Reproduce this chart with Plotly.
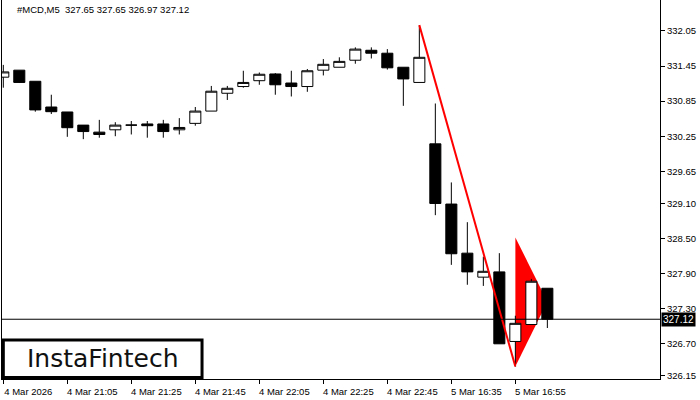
import plotly.graph_objects as go

# ---- data ----
candle_idx = list(range(35))
opens = [331.26, 331.38, 331.19, 330.75, 330.665, 330.44, 330.32, 330.36, 330.44, 330.46,
         330.46, 330.36, 330.47, 330.68, 330.985, 331.10, 331.20, 331.315, 331.16, 331.10,
         331.38, 331.43, 331.55, 331.72, 331.67, 331.43, 331.17, 330.12, 329.09, 328.25,
         327.84, 327.93, 326.74, 327.03, 327.65]
highs = [331.47, 331.38, 331.19, 330.96, 330.665, 330.44, 330.53, 330.49, 330.51, 330.51,
         330.53, 330.56, 330.75, 331.11, 331.11, 331.37, 331.34, 331.33, 331.37, 331.40,
         331.57, 331.60, 331.77, 331.77, 331.74, 331.43, 332.15, 330.81, 329.46, 328.78,
         328.19, 328.25, 327.18, 327.81, 327.65]
lows = [331.08, 331.16, 330.67, 330.63, 330.24, 330.20, 330.225, 330.25, 330.28, 330.225,
        330.225, 330.28, 330.43, 330.68, 330.87, 331.08, 331.13, 330.96, 330.93, 331.01,
        331.29, 331.43, 331.49, 331.58, 331.39, 330.77, 331.17, 328.90, 328.05, 327.71,
        327.69, 326.70, 326.31, 327.03, 326.97]
closes = [331.35, 331.17, 330.70, 330.67, 330.396, 330.33, 330.28, 330.44, 330.44, 330.43,
          330.33, 330.40, 330.68, 331.02, 331.07, 331.17, 331.31, 331.13, 331.10, 331.37,
          331.48, 331.53, 331.74, 331.67, 331.42, 331.23, 331.60, 329.10, 328.24, 327.93,
          327.94, 326.70, 327.05, 327.77, 327.12]

x_tick_idx = [0, 4, 8, 12, 16, 20, 24, 28, 32]
x_tick_labels = ["4 Mar 2026", "4 Mar 21:05", "4 Mar 21:25", "4 Mar 21:45", "4 Mar 22:05",
                 "4 Mar 22:25", "4 Mar 22:45", "5 Mar 16:35", "5 Mar 16:55"]
y_tick_vals = [332.05, 331.45, 330.85, 330.25, 329.65, 329.10, 328.50, 327.90, 327.30, 326.70, 326.15]

# pattern (pole + pennant)
pole_x = [26, 32]
pole_y = [332.15, 326.31]
pennant_x = [32, 34, 32]
pennant_y = [328.52, 327.42, 326.31]

symbol = "#MCD,M5"
last_ohlc = [327.65, 327.65, 326.97, 327.12]
last_price = closes[-1]

FONT = "Liberation Sans"

fig = go.Figure()
fig.add_trace(go.Candlestick(
    x=candle_idx, open=opens, high=highs, low=lows, close=closes,
    increasing=dict(fillcolor="white", line=dict(color="black", width=1)),
    decreasing=dict(fillcolor="black", line=dict(color="black", width=1)),
    whiskerwidth=0, showlegend=False, hoverinfo="skip",
))

# pennant (below candles)
path = "M {} {} L {} {} L {} {} Z".format(pennant_x[0], pennant_y[0], pennant_x[1], pennant_y[1],
                                          pennant_x[2], pennant_y[2])
fig.add_shape(type="path", path=path, xref="x", yref="y", fillcolor="red",
              line=dict(width=0), layer="below")
# pole line
fig.add_shape(type="line", x0=pole_x[0], y0=pole_y[0], x1=pole_x[1], y1=pole_y[1],
              xref="x", yref="y", line=dict(color="red", width=2), layer="above")
# last price line
fig.add_shape(type="line", x0=0, x1=1, xref="paper", y0=last_price, y1=last_price, yref="y",
              line=dict(color="black", width=1), layer="above")

# last price label
fig.add_annotation(x=1, xref="paper", y=last_price, yref="y", xanchor="left", yanchor="middle",
                   text="{:.2f}".format(last_price), showarrow=False,
                   font=dict(family=FONT, size=10, color="white"),
                   bgcolor="black", borderpad=1, xshift=1)

# title
fig.add_annotation(x=0.0228, xref="paper", y=0.974, yref="paper", xanchor="left", yanchor="middle",
                   text="{}  {:.2f} {:.2f} {:.2f} {:.2f}".format(symbol, *last_ohlc), showarrow=False,
                   font=dict(family=FONT, size=9.5, color="black"), xshift=-2)

# logo box
fig.add_shape(type="rect", xref="paper", yref="paper", x0=0.002, x1=0.304, y0=0.004, y1=0.103,
              fillcolor="white", line=dict(color="black", width=3), layer="above")
fig.add_annotation(x=0.153, xref="paper", y=0.053, yref="paper", xanchor="center", yanchor="middle",
                   text="InstaFintech", showarrow=False,
                   font=dict(family="DejaVu Sans", size=25, color="#111111"))

fig.update_layout(
    width=700, height=400,
    margin=dict(l=2, r=40, t=0, b=21),
    paper_bgcolor="white", plot_bgcolor="white",
    boxgap=0.31, boxgroupgap=0,
    showlegend=False,
    font=dict(family=FONT, size=9.5, color="black"),
)
fig.update_xaxes(
    range=[-0.081, 41.04], rangeslider=dict(visible=False),
    tickmode="array", tickvals=x_tick_idx, ticktext=x_tick_labels,
    ticks="outside", ticklen=4, tickcolor="black", ticklabelshift=25, ticklabelstandoff=0,
    showgrid=False, zeroline=False, showline=True, linecolor="black", linewidth=1, mirror=True,
    tickfont=dict(family=FONT, size=9.5, color="black"),
)
fig.update_yaxes(
    range=[326.098, 332.58], side="right",
    tickmode="array", tickvals=y_tick_vals, tickformat=".2f",
    ticks="outside", ticklen=4, tickcolor="black",
    showgrid=False, zeroline=False, showline=True, linecolor="black", linewidth=1, mirror=True,
    tickfont=dict(family=FONT, size=9.5, color="black"),
)

fig.write_html("out.html", config={"displayModeBar": False},
               post_script="document.body.style.margin='0';")
